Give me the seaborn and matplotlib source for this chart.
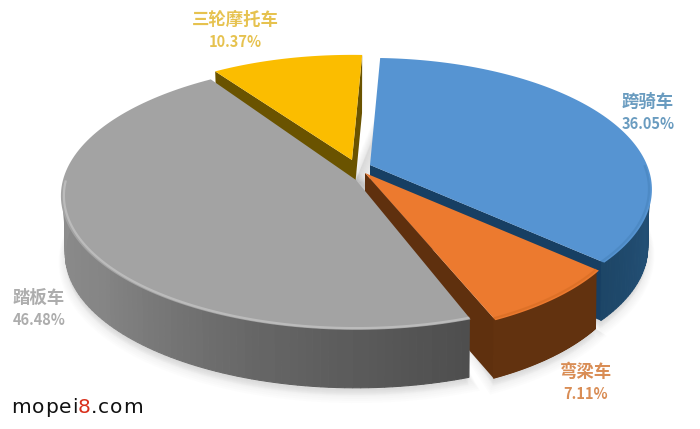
import numpy as np
import matplotlib
matplotlib.use('Agg')
import matplotlib.pyplot as plt
import seaborn as sns

# chart data
categories = ['跨骑车', '弯梁车', '踏板车', '三轮摩托车']
shares = [36.05, 7.11, 46.48, 10.37]

sns.set_theme(style='white')
plt.rcParams['font.family'] = ['Noto Sans CJK SC', 'DejaVu Sans']

# fake 3D look: every slice gets its own perspective (offset from centre, a, b, k, angle nudge)
centre = (356, 180)
start_angle = 2.5
thickness = 58
geometry = {
    '跨骑车': (14, -15, 277, 127, 0.186, 0),
    '弯梁车': (9, -7, 257, 118, 0.278, 0),
    '踏板车': (0, 0, 293, 132, 0.119, 1.8),
    '三轮摩托车': (-4, -20, 273, 123, 0.17, 0),
}
top_colors = {'跨骑车': '#5694D2', '弯梁车': '#EC7A2F', '踏板车': '#A3A3A3', '三轮摩托车': '#FBBD00'}
wall_colors = {
    '跨骑车': ['#1D4667', '#234F75', '#1D4667'],
    '弯梁车': ['#62320F', '#62320F'],
    '踏板车': ['#4E4E4E', '#666666', '#858585', '#8E8E8E'],
    '三轮摩托车': ['#6A5300', '#6A5300'],
}
side_colors = {'跨骑车': '#173F63', '弯梁车': '#5F300E', '踏板车': '#555555', '三轮摩托车': '#6A5300'}
rim_colors = {'跨骑车': '#4A86C0', '弯梁车': '#D96E25', '踏板车': '#C6C6C6', '三轮摩托车': '#FFD75E'}
label_colors = {'跨骑车': '#6A9CC0', '弯梁车': '#D98D55', '踏板车': '#ADADAD', '三轮摩托车': '#E6C24F'}
label_pos = {'跨骑车': (648, 102), '弯梁车': (586, 372), '踏板车': (39, 298), '三轮摩托车': (235, 20)}
draw_order = ['三轮摩托车', '跨骑车', '弯梁车', '踏板车']

mark_chars = list('mopei8.com')
mark_x = [11, 31.5, 45, 59, 72, 78, 91, 98, 110, 123]

ends = np.cumsum(shares) / np.sum(shares) * 360
starts = np.concatenate([[0], ends[:-1]])
spans = {c: (s + start_angle + geometry[c][5], e + start_angle + geometry[c][5])
         for c, s, e in zip(categories, starts, ends)}


def project(name, theta, radius=1.0, drop=0.0):
    dx, dy, a, b, k, _ = geometry[name]
    t = np.radians(theta)
    px = radius * np.sin(t)
    py = radius * np.cos(t)
    scale = 1 - 0.015 * drop / thickness
    w = 1 + k * py
    return centre[0] + dx + scale * a * px / w, centre[1] + dy + drop - b * py / w


fig = plt.figure(figsize=(7, 4.29), dpi=100)
ax = fig.add_axes([0, 0, 1, 1])
ax.set_xlim(0, 700)
ax.set_ylim(429, 0)
ax.axis('off')

# soft shadow under the pie
for i in range(8):
    for name in draw_order[1:]:
        th = np.linspace(*spans[name], 80)
        x, y = project(name, th, drop=thickness + 1 + i)
        ax.fill(np.r_[x, centre[0]], np.r_[y, centre[1]], color='#808080', alpha=0.018, lw=i * 1.5, zorder=1)

z = 2
for name in draw_order:
    t0, t1 = spans[name]
    th = np.linspace(t0, t1, 121)

    # radial walls which face the viewer
    for edge, seen in ((t0, np.sin(np.radians(t0)) < 0), (t1, np.sin(np.radians(t1)) > 0)):
        if seen:
            ax_, ay_ = project(name, edge, radius=0.0)
            ox, oy = project(name, edge)
            bx_, by_ = project(name, edge, radius=0.0, drop=thickness)
            qx, qy = project(name, edge, drop=thickness)
            ax.fill([ax_, ox, qx, bx_], [ay_, oy, qy, by_], color=side_colors[name], lw=0, zorder=z)

    # outer wall, only the part turned to the viewer
    wall_th = th[np.cos(np.radians(th)) < 0.05]
    if len(wall_th) > 1:
        shades = sns.blend_palette(wall_colors[name], n_colors=len(wall_th) - 1)
        for i in range(len(wall_th) - 1):
            xa, ya = project(name, wall_th[i:i + 2], radius=0.99)
            xb, yb = project(name, wall_th[i:i + 2], drop=thickness)
            ax.fill(np.r_[xa, xb[::-1]], np.r_[ya, yb[::-1]], color=shades[i], lw=0.8, zorder=z)

    # top face
    x, y = project(name, th)
    cx, cy = project(name, 0, radius=0.0)
    ax.fill(np.r_[cx, x], np.r_[cy, y], color=top_colors[name], lw=0, zorder=z + 1)

    # bevel along the front of the rim
    front = th[np.cos(np.radians(th)) < 0.0]
    if len(front) > 1:
        rx, ry = project(name, front, radius=0.99)
        ax.plot(rx, ry, color=rim_colors[name], lw=1.6, alpha=0.7, zorder=z + 1, solid_capstyle='butt')
    z += 2

# labels
for name, share in zip(categories, shares):
    lx, ly = label_pos[name]
    ax.text(lx, ly, name, ha='center', va='center', fontsize=12.5, color=label_colors[name],
            fontweight='bold', zorder=20)
    ax.text(lx, ly + 22, f'{share:.2f}%', ha='center', va='center', fontsize=10.5,
            color=label_colors[name], fontweight='bold', zorder=20)

# site mark
for ch, x0 in zip(mark_chars, mark_x):
    ax.text(x0, 413, ch, ha='left', va='baseline', fontsize=14.5, family='DejaVu Sans',
            color='#D9301C' if ch == '8' else '#111111', zorder=20)

fig.savefig('out.png', dpi=100, facecolor='white')
